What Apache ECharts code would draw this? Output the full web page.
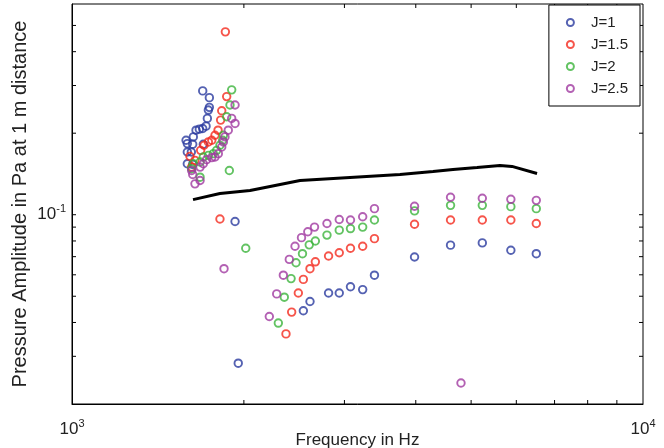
<!DOCTYPE html>
<html>
<head>
<meta charset="utf-8">
<script src="https://cdn.jsdelivr.net/npm/echarts@6/dist/echarts.min.js"></script>
<style>
  html, body { margin: 0; padding: 0; background: #fff; }
  #chart { width: 664px; height: 448px; }
</style>
</head>
<body>
<div id="chart"></div>
<script>
const FONT = '"Liberation Sans", Arial, Helvetica, sans-serif'

// series names and colours
const legendNames = ['J=1', 'J=1.5', 'J=2', 'J=2.5']
const colors = ['#2a3b9f', '#f42a1e', '#3cb43c', '#a03aa0']

// [frequency Hz, pressure amplitude Pa]
const j1 = [
  [1694, 0.2866], [1740, 0.2706], [1740, 0.2492], [1733, 0.2435], [1726, 0.2268],
  [1717, 0.2124], [1694, 0.2082], [1671, 0.2070], [1649, 0.2052], [1631, 0.1938],
  [1584, 0.1884], [1592, 0.1831], [1627, 0.1820], [1698, 0.1820], [1592, 0.1704],
  [1618, 0.1704], [1592, 0.1543], [1627, 0.1534],
  [1930, 0.0944], [1955, 0.0283],
  [2542, 0.0442], [2611, 0.0478], [2814, 0.0514], [2938, 0.0514], [3074, 0.0542],
  [3229, 0.0529], [3386, 0.0598],
  [3980, 0.0698], [4602, 0.0772], [5231, 0.0787], [5869, 0.0739], [6503, 0.0718]
]
const j15 = [
  [1856, 0.4735],
  [1866, 0.2730], [1829, 0.2421], [1821, 0.2236], [1802, 0.2052], [1780, 0.1966],
  [1757, 0.1884], [1733, 0.1857], [1703, 0.1805], [1680, 0.1729], [1609, 0.1643],
  [1642, 0.1588], [1620, 0.1499],
  [1816, 0.0964],
  [2370, 0.0363], [2425, 0.0437], [2491, 0.0514], [2542, 0.0577], [2611, 0.0632],
  [2668, 0.0670], [2814, 0.0704], [2938, 0.0724], [3074, 0.0752], [3229, 0.0765],
  [3386, 0.0816],
  [3980, 0.0922], [4602, 0.0956], [5231, 0.0956], [5869, 0.0956], [6503, 0.0928]
]
const j2 = [
  [1904, 0.2891], [1891, 0.2542], [1866, 0.2300], [1841, 0.1966], [1836, 0.1884],
  [1816, 0.1805], [1792, 0.1729], [1768, 0.1681], [1733, 0.1657], [1698, 0.1633],
  [1676, 0.1565], [1631, 0.1543], [1620, 0.1479], [1886, 0.1457], [1676, 0.1376],
  [2015, 0.0752],
  [2298, 0.0398], [2354, 0.0496], [2419, 0.0581], [2468, 0.0665], [2533, 0.0718],
  [2603, 0.0774], [2668, 0.0800], [2796, 0.0841], [2938, 0.0877], [3074, 0.0889],
  [3229, 0.0900], [3386, 0.0956],
  [3980, 0.1033], [4602, 0.1083], [5231, 0.1083], [5869, 0.1071], [6503, 0.1053]
]
const j25 = [
  [1930, 0.2542], [1904, 0.2268], [1930, 0.2173], [1878, 0.2052], [1853, 0.1938],
  [1841, 0.1857], [1829, 0.1779], [1804, 0.1681], [1780, 0.1633], [1757, 0.1625],
  [1721, 0.1597], [1698, 0.1543], [1676, 0.1499], [1620, 0.1457], [1627, 0.1408],
  [1676, 0.1338], [1642, 0.1300],
  [1846, 0.0632], [4800, 0.0239],
  [2216, 0.0421], [2283, 0.0510], [2345, 0.0598], [2402, 0.0684], [2458, 0.0765],
  [2523, 0.0823], [2588, 0.0865], [2659, 0.0900], [2796, 0.0928], [2938, 0.0960],
  [3074, 0.0956], [3229, 0.0983], [3386, 0.1053],
  [3980, 0.1075], [4602, 0.1160], [5231, 0.1150], [5869, 0.1140], [6503, 0.1130]
]
const jData = [j1, j15, j2, j25]

// black reference curve
const refLine = [
  [1629, 0.1137], [1816, 0.1197], [2050, 0.1228], [2223, 0.1271], [2508, 0.1338],
  [3068, 0.1373], [3753, 0.1409], [4288, 0.1445], [4648, 0.1470], [5121, 0.1495],
  [5617, 0.1521], [5896, 0.1508], [6523, 0.1420]
]

// axis limits and tick positions
const xMin = 1000, xMax = 10000
const yMin = 0.02, yMax = 0.6
const xTicks = [2000, 3000, 4000, 5000, 6000, 7000, 8000, 9000]
const yTicks = [0.03, 0.04, 0.05, 0.06, 0.07, 0.08, 0.09, 0.1, 0.2, 0.3, 0.4, 0.5]
const tickLen = 4

const powLabel = (v) => {
  const e = Math.round(Math.log10(v))
  if (Math.abs(v / Math.pow(10, e) - 1) > 1e-6) return ''
  return '{b|10}{s|' + e + '}'
}
const labelRich = {
  b: { fontSize: 17, fontFamily: FONT, color: '#222' },
  s: { fontSize: 11, fontFamily: FONT, color: '#222', padding: [0, 0, 11, 0] }
}

const chart = echarts.init(document.getElementById('chart'))

const scatterSeries = legendNames.map((name, i) => ({
  name,
  type: 'scatter',
  data: jData[i],
  symbol: 'circle',
  symbolSize: 7.5,
  itemStyle: { color: 'rgba(255,255,255,0)', borderColor: colors[i], borderWidth: 1.9 },
  emphasis: { disabled: true },
  z: 3
}))

chart.setOption({
  animation: false,
  backgroundColor: '#fff',
  grid: {
    left: 72, right: 21, top: 4, bottom: 44,
    containLabel: false,
    outerBoundsMode: 'none',
    show: true, borderColor: '#000', borderWidth: 1, backgroundColor: 'transparent'
  },
  legend: {
    data: legendNames,
    orient: 'vertical',
    right: 24,
    top: 5,
    backgroundColor: '#fff',
    borderColor: '#000',
    borderWidth: 1,
    borderRadius: 0,
    padding: [10, 12, 10, 17],
    itemGap: 7,
    itemWidth: 7,
    itemHeight: 7,
    textStyle: { fontSize: 15, fontFamily: FONT, color: '#222', padding: [0, 0, 0, 12] }
  },
  xAxis: {
    type: 'log',
    logBase: 10,
    min: xMin,
    max: xMax,
    name: 'Frequency in Hz',
    nameLocation: 'middle',
    nameGap: 28,
    nameMoveOverlap: false,
    nameTextStyle: { fontSize: 17, fontFamily: FONT, color: '#222' },
    axisLine: { lineStyle: { color: '#000', width: 1 } },
    axisTick: { show: false },
    splitLine: { show: false },
    axisLabel: { formatter: powLabel, rich: labelRich, margin: 14 }
  },
  yAxis: {
    type: 'log',
    logBase: 10,
    min: yMin,
    max: yMax,
    name: 'Pressure Amplitude in Pa at 1 m distance',
    nameLocation: 'middle',
    nameGap: 42,
    nameMoveOverlap: false,
    nameTextStyle: { fontSize: 20, fontFamily: FONT, color: '#222' },
    axisLine: { lineStyle: { color: '#000', width: 1 } },
    axisTick: { show: false },
    splitLine: { show: false },
    axisLabel: { formatter: powLabel, rich: labelRich, margin: 6 }
  },
  series: [
    {
      name: 'ref',
      type: 'line',
      data: refLine,
      showSymbol: false,
      lineStyle: { color: '#000', width: 3 },
      itemStyle: { color: '#000' },
      z: 2
    },
    ...scatterSeries
  ]
})

// inward ticks on all four edges, placed through the axis scales
const tickLine = (x1, y1, x2, y2) => ({
  type: 'line',
  shape: { x1, y1, x2, y2 },
  style: { stroke: '#000', lineWidth: 1 },
  silent: true,
  z: 1
})
const ticks = []
xTicks.forEach(v => {
  const b = chart.convertToPixel({ gridIndex: 0 }, [v, yMin])
  const t = chart.convertToPixel({ gridIndex: 0 }, [v, yMax])
  ticks.push(tickLine(b[0], b[1], b[0], b[1] - tickLen))
  ticks.push(tickLine(t[0], t[1], t[0], t[1] + tickLen))
})
yTicks.forEach(v => {
  const l = chart.convertToPixel({ gridIndex: 0 }, [xMin, v])
  const r = chart.convertToPixel({ gridIndex: 0 }, [xMax, v])
  ticks.push(tickLine(l[0], l[1], l[0] + tickLen, l[1]))
  ticks.push(tickLine(r[0], r[1], r[0] - tickLen, r[1]))
})
chart.setOption({ graphic: ticks })
</script>
</body>
</html>
